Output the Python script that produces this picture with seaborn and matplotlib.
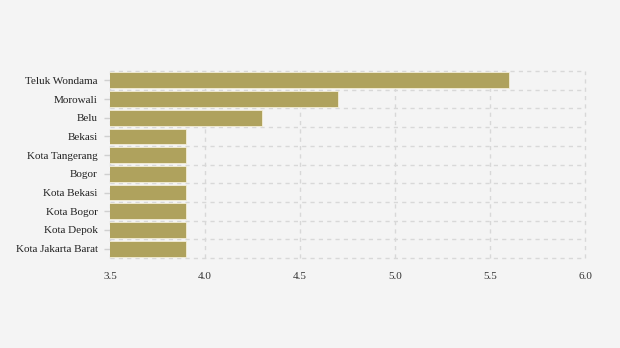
import matplotlib
matplotlib.use("Agg")
import matplotlib.pyplot as plt
import seaborn as sns
import pandas as pd
import numpy as np

categories = ["Teluk Wondama", "Morowali", "Belu", "Bekasi", "Kota Tangerang",
              "Bogor", "Kota Bekasi", "Kota Bogor", "Kota Depok", "Kota Jakarta Barat"]
values = [5.6, 4.7, 4.3, 3.9, 3.9, 3.9, 3.9, 3.9, 3.9, 3.9]
xticks = [3.5, 4.0, 4.5, 5.0, 5.5, 6.0]

sns.set_theme(style="white")
plt.rcParams['font.family'] = ['Liberation Serif', 'DejaVu Serif']

bg = "#f4f4f4"
fig = plt.figure(figsize=(6.2, 3.48), dpi=100, facecolor=bg)
ax = fig.add_axes([110/620, 1-258/348, 475/620, 187/348])
ax.set_facecolor(bg)

df = pd.DataFrame({"cat": categories, "val": values})
sns.barplot(data=df, y="cat", x="val", orient="h", color="#afa25d", saturation=1,
            width=0.84, edgecolor="#f4efd8", linewidth=0.6, ax=ax, zorder=3)

ax.set_xlim(3.5, 6.0)
ax.set_ylim(9.5, -0.5)
ax.set_xticks(xticks)
ax.set_xticklabels([f"{t:.1f}" for t in xticks], fontsize=8, color="#333333")
ax.set_yticks(range(len(categories)))
ax.set_yticklabels(categories, fontsize=8, color="#222222")
ax.set_yticks(np.arange(-0.5, len(categories), 1.0), minor=True)
ax.set_xlabel("")
ax.set_ylabel("")

for s in ax.spines.values():
    s.set_visible(False)

ax.grid(False)
ax.grid(axis="x", which="major", color="#d8d8d8", linestyle=(0, (3, 3)), linewidth=1, zorder=0)
ax.grid(axis="y", which="minor", color="#d8d8d8", linestyle=(0, (3, 3)), linewidth=1, zorder=0)
ax.set_axisbelow(True)
for ln in ax.get_xgridlines() + ax.yaxis.get_minorticklines():
    pass
for t in ax.xaxis.get_major_ticks():
    t.gridline.set_clip_on(False)
for t in ax.yaxis.get_minor_ticks():
    t.gridline.set_clip_on(False)

ax.tick_params(axis="x", which="both", length=0, pad=10)
ax.tick_params(axis="y", which="major", length=4, color="#d0d0d0", width=1, pad=5, left=True)
ax.tick_params(axis="y", which="minor", length=0)

fig.savefig("out.png", dpi=100, facecolor=bg)
